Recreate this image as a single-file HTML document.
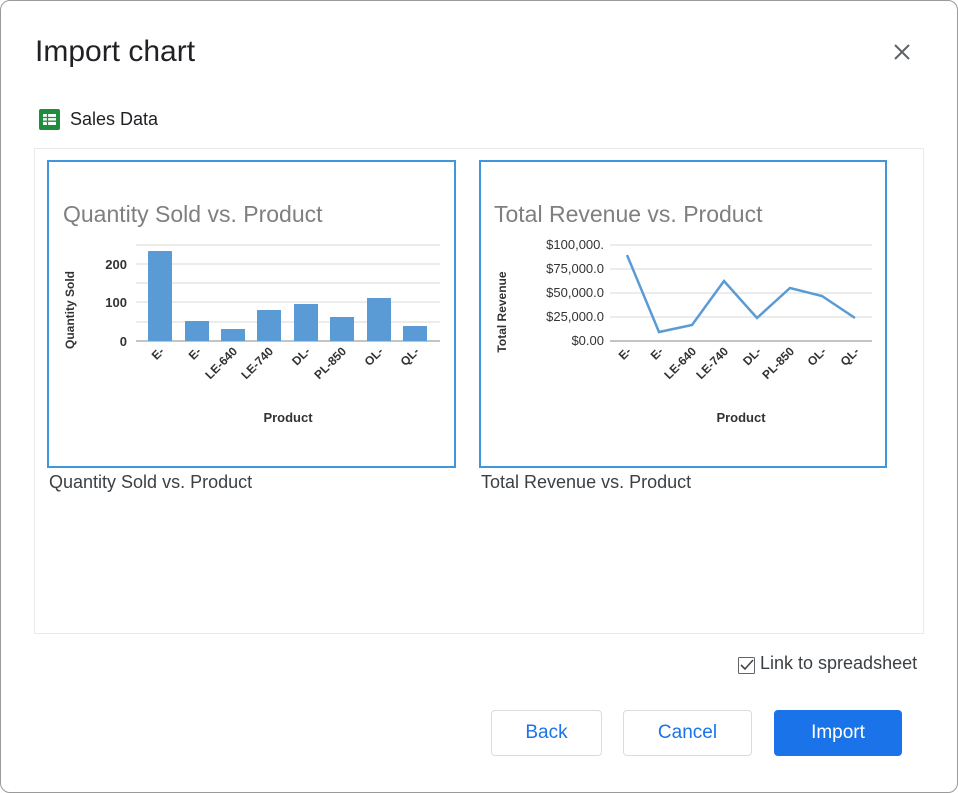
<!DOCTYPE html><html><head><style>
body{margin:0;width:958px;height:793px;background:#fff;font-family:"Liberation Sans",sans-serif;position:relative;overflow:hidden}
.a{position:absolute}
.btn{position:absolute;top:710px;height:46px;border:1px solid #dadce0;border-radius:4px;box-sizing:border-box;color:#1a73e8;font-size:19px;display:flex;align-items:center;justify-content:center}
</style></head><body>
<div class="a" style="left:0;top:0;width:956px;height:791px;border:1px solid #9a9a9a;border-radius:10px"></div>
<div class="a" style="left:35px;top:35px;font-size:30px;color:#202124">Import chart</div>
<svg class="a" style="left:894px;top:44px" width="16" height="16"><path d="M1 1L15 15M15 1L1 15" stroke="#5f6368" stroke-width="2"/></svg>
<svg class="a" style="left:39px;top:109px" width="21" height="21"><rect width="21" height="21" rx="2" fill="#1e8e3e"/><rect x="4" y="5" width="13" height="11" fill="#fff"/><path d="M4 8.5h13M4 12.2h13M8.5 5v11" stroke="#1e8e3e" stroke-width="1.3"/></svg>
<div class="a" style="left:70px;top:109px;font-size:18px;color:#202124">Sales Data</div>
<div class="a" style="left:34px;top:148px;width:888px;height:484px;border:1px solid #e8eaed"></div>
<svg class="a" style="left:0;top:0" width="958" height="793" font-family="Liberation Sans,sans-serif">
<rect x="48" y="161" width="407" height="306" fill="#fff" stroke="#3f96dc" stroke-width="2"/>
<text x="63" y="222" font-size="23" fill="#7f7f7f">Quantity Sold vs. Product</text>
<g stroke="#d9d9d9"><path d="M136 245H440M136 264H440M136 283H440M136 302H440M136 322H440"/></g>
<path d="M136 341H440" stroke="#888"/>
<g font-size="13" font-weight="bold" fill="#333" text-anchor="end"><text x="127" y="269">200</text><text x="127" y="307">100</text><text x="127" y="346">0</text></g>
<g fill="#5b9bd5"><rect x="148" y="251" width="24" height="90" rx="1"/><rect x="185" y="321" width="24" height="20"/><rect x="221" y="329" width="24" height="12"/><rect x="257" y="310" width="24" height="31"/><rect x="294" y="304" width="24" height="37"/><rect x="330" y="317" width="24" height="24"/><rect x="367" y="298" width="24" height="43"/><rect x="403" y="326" width="24" height="15"/></g>
<text transform="translate(74,310) rotate(-90)" font-size="12" font-weight="bold" fill="#333" text-anchor="middle">Quantity Sold</text>
<g font-size="12" font-weight="bold" fill="#333" text-anchor="end">
<text transform="translate(165,352) rotate(-45)">E-</text><text transform="translate(202,352) rotate(-45)">E-</text><text transform="translate(238,352) rotate(-45)">LE-640</text><text transform="translate(274,352) rotate(-45)">LE-740</text><text transform="translate(311,352) rotate(-45)">DL-</text><text transform="translate(347,352) rotate(-45)">PL-850</text><text transform="translate(384,352) rotate(-45)">OL-</text><text transform="translate(420,352) rotate(-45)">QL-</text></g>
<text x="288" y="422" font-size="13" font-weight="bold" fill="#333" text-anchor="middle">Product</text>

<rect x="480" y="161" width="406" height="306" fill="#fff" stroke="#3f96dc" stroke-width="2"/>
<text x="494" y="222" font-size="23" fill="#7f7f7f">Total Revenue vs. Product</text>
<g stroke="#d9d9d9"><path d="M610 245H872M610 269H872M610 293H872M610 317H872"/></g>
<path d="M610 341H872" stroke="#888"/>
<g font-size="13" fill="#333" text-anchor="end"><text x="604" y="249">$100,000.</text><text x="604" y="273">$75,000.0</text><text x="604" y="297">$50,000.0</text><text x="604" y="321">$25,000.0</text><text x="604" y="345">$0.00</text></g>
<polyline points="627,255 659,332 692,325 724,281 757,318 790,288 822,296 855,318" fill="none" stroke="#5b9bd5" stroke-width="2.5"/>
<text transform="translate(506,312) rotate(-90)" font-size="12" font-weight="bold" fill="#333" text-anchor="middle">Total Revenue</text>
<g font-size="12" font-weight="bold" fill="#333" text-anchor="end">
<text transform="translate(632,352) rotate(-45)">E-</text><text transform="translate(664,352) rotate(-45)">E-</text><text transform="translate(697,352) rotate(-45)">LE-640</text><text transform="translate(729,352) rotate(-45)">LE-740</text><text transform="translate(762,352) rotate(-45)">DL-</text><text transform="translate(795,352) rotate(-45)">PL-850</text><text transform="translate(827,352) rotate(-45)">OL-</text><text transform="translate(860,352) rotate(-45)">QL-</text></g>
<text x="741" y="422" font-size="13" font-weight="bold" fill="#333" text-anchor="middle">Product</text>
<rect x="738.5" y="657.5" width="16" height="16" fill="none" stroke="#5f6368" rx="1"/>
<path d="M741 665l4 4 8-9" fill="none" stroke="#444" stroke-width="1.6"/>
</svg>
<div class="a" style="left:49px;top:472px;font-size:18px;color:#3c4043">Quantity Sold vs. Product</div>
<div class="a" style="left:481px;top:472px;font-size:18px;color:#3c4043">Total Revenue vs. Product</div>
<div class="a" style="left:760px;top:653px;font-size:18px;color:#3c4043">Link to spreadsheet</div>
<div class="btn" style="left:491px;width:111px">Back</div>
<div class="btn" style="left:623px;width:129px">Cancel</div>
<div class="btn" style="left:774px;width:128px;background:#1a73e8;color:#fff;border:none">Import</div>
</body></html>
